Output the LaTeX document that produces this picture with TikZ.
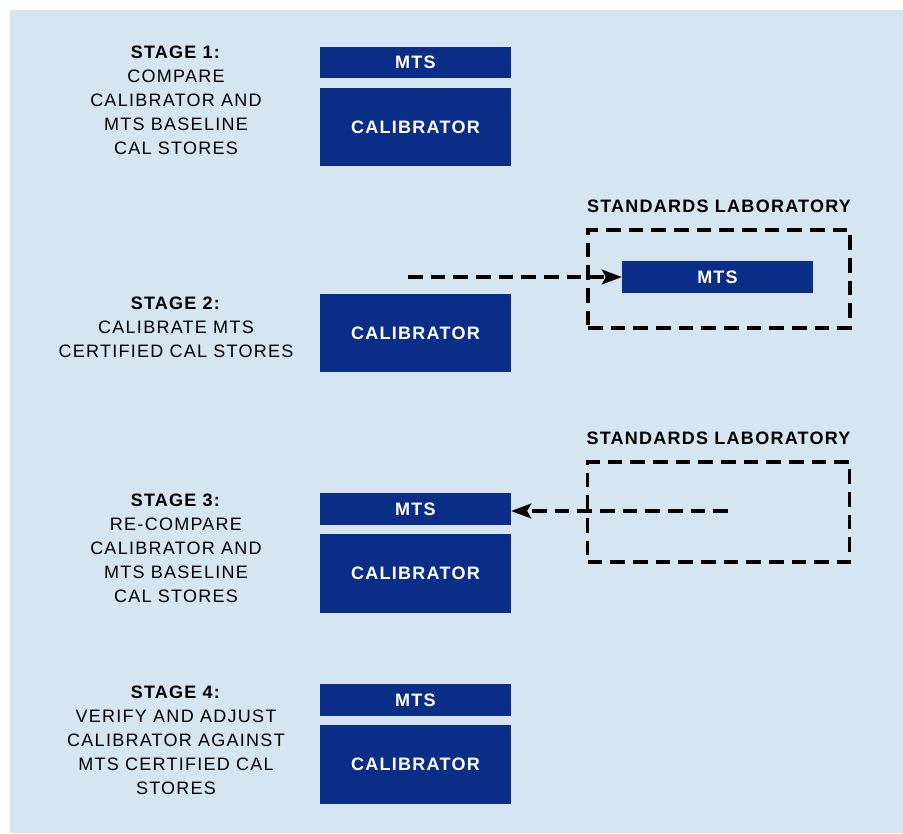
\documentclass[tikz,border=0pt]{standalone}
\usepackage{fontspec}
\setmainfont{Liberation Sans}[LetterSpace=7]
\usetikzlibrary{calc,positioning,arrows.meta}
\definecolor{sbg}{HTML}{D5E5F2}
\definecolor{snavy}{HTML}{0A2E88}

\begin{document}
\begin{tikzpicture}[x=0.75pt,y=-0.75pt,
    BOX/.style={fill=snavy,text=white,font=\bfseries,minimum width=143pt,inner sep=0pt},
    MTSB/.style={BOX,minimum height=23.5pt},
    CALB/.style={BOX,minimum height=59pt},
    LAB/.style={draw=black,line width=2.6pt,dash pattern=on 11pt off 6pt,minimum width=196.5pt,inner sep=0pt},
    ST/.style={align=center},
    AR/.style={-{Stealth[length=15pt,width=11pt,inset=3pt]},line width=2.6pt,dash pattern=on 11pt off 6pt}]
        \fontsize{13.5}{18}\selectfont
        \useasboundingbox (0,0) rectangle (903,833);
        % Background panel
        \fill[white] (0,0) rectangle (903,833);
        \fill[sbg] (10,10) rectangle (903,833);
        % STAGE 1
        \node[ST] (st1) at (176,100) {\textbf{STAGE 1:}\\COMPARE\\CALIBRATOR AND\\MTS BASELINE\\CAL STORES};
        \node[MTSB] (mts1) at (415.5,62.5) {MTS};
        \node[CALB,below=6.75pt of mts1] (cal1) {CALIBRATOR};
        % STAGE 2
        \node[ST] (st2) at (176,327) {\textbf{STAGE 2:}\\CALIBRATE MTS\\CERTIFIED CAL STORES};
        \node[CALB] (cal2) at (415.5,333) {CALIBRATOR};
        \node[LAB,minimum height=73.5pt] (lab2) at (719,279) {};
        \node[font=\bfseries,above=7pt of lab2] (labt2) {STANDARDS LABORATORY};
        \node[MTSB] (mts2) at (717.5,277) {MTS};
        \coordinate (src2) at (408,277);
        \draw[AR] (src2) -- (mts2.west);
        % STAGE 3
        \node[ST] (st3) at (176,548) {\textbf{STAGE 3:}\\RE-COMPARE\\CALIBRATOR AND\\MTS BASELINE\\CAL STORES};
        \node[MTSB] (mts3) at (415.5,509) {MTS};
        \node[CALB,below=6.75pt of mts3] (cal3) {CALIBRATOR};
        \node[LAB,minimum height=75pt] (lab3) at (718.5,512) {};
        \node[font=\bfseries,above=7pt of lab3] (labt3) {STANDARDS LABORATORY};
        \coordinate (src3) at (728,511);
        \draw[AR] (src3) -- (src3 -| mts3.east);
        % STAGE 4
        \node[ST] (st4) at (176,740) {\textbf{STAGE 4:}\\VERIFY AND ADJUST\\CALIBRATOR AGAINST\\MTS CERTIFIED CAL\\STORES};
        \node[MTSB] (mts4) at (415.5,700) {MTS};
        \node[CALB,below=6.75pt of mts4] (cal4) {CALIBRATOR};
    \end{tikzpicture}
\end{document}
